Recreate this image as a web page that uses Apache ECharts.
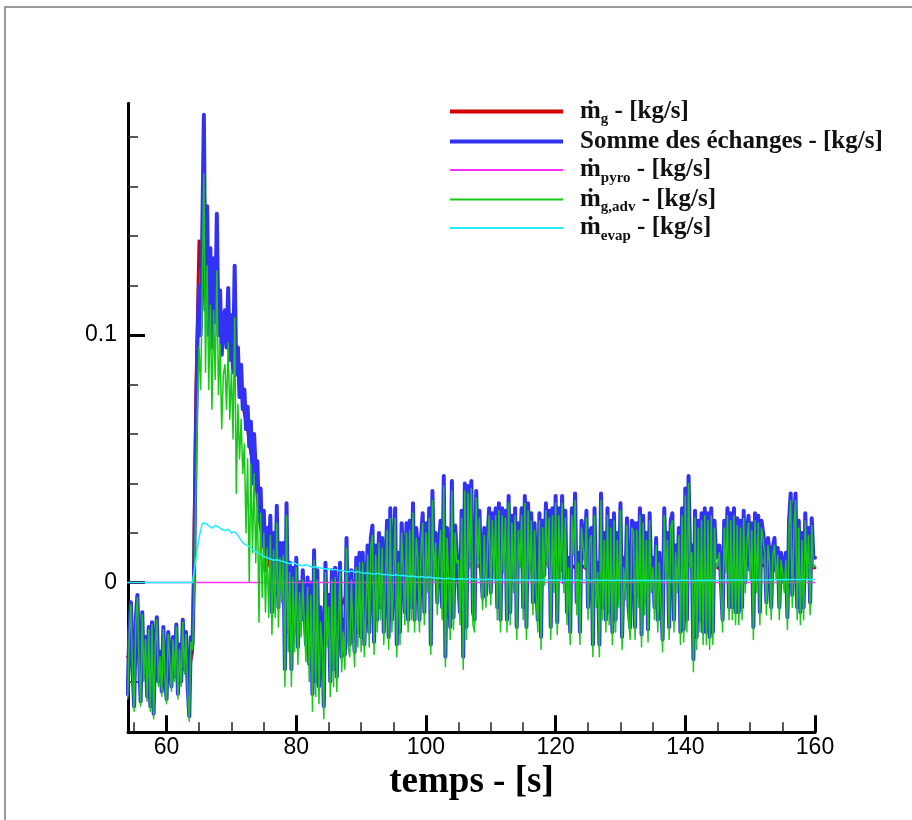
<!DOCTYPE html>
<html><head><meta charset="utf-8">
<script src="https://cdn.jsdelivr.net/npm/echarts@6/dist/echarts.min.js"></script>
<style>html,body{margin:0;padding:0;background:#fff}#c{width:912px;height:820px}</style>
</head><body><div id="c"></div>
<script>
// time grid (s): fine series sampled every 0.25 s, coarse every 0.5 s, starting at 54 s
const T_START = 54;
const STEP_FINE = 0.25;
const STEP_COARSE = 0.5;
const MILLI = 1000; // arrays below are in 1e-3 kg/s

// Somme des échanges (blue), 0.25 s
const sommeEchanges = [
-45,-20,-8,-35, -50,-15,-5,-30, -48,-12,-38,-22, -46,-18,-50,-16, -53,-25,-14,-40,
-28,-44,-18,-36, -47,-20,-30,-42, -22,-38,-17,-45, -25,-40,-15,-35, -20,-42,-54,-22,
-25,5,55,95, 120,100,140,189, 110,152,100,135, 95,131,105,149, 100,118,92,104,
110,95,119,90, 108,85,128,84, 95,75,88,70, 78,62,71,55, 65,40,60,45,
49,25,38,15, 29,5,22,10, 27,-12,20,-5, 31,-10,16,2, 16,-35,32,-20,
8,-35,6,-20, 10,-26,0,-15, 5,-10,-25,2, -33,0,-45,13, -40,5,-42,-10,
-20,-50,8,-20, -5,-40,5,-35, 6,-38,-10,8, -30,-15,-29,18, -20,-25,5,-15,
-28,10,-20,12, -22,12,-25,-5, 15,-20,18,23, -24,15,-15,20, -10,18,-20,5,
25,-22,30,-15, 8,30,-25,12, -20,24,10,-12, 24,-15,25,-10, 32,-15,22,14,
-15,18,28,-12, 24,0,30,-25, 37,5,20,-8, 14,25,-10,43, -30,22,5,-18,
41,-14,23,12, 12,-12,29,-30, 40,-18,39,10, 41,-12,-15,37, 10,29,5,-6,
22,-5,18,30, -4,28,5,30, -10,32,-15,30, 8,29,-15,35, -12,27,0,30,
-18,24,10,30, -10,35,-18,32, 5,28,-8,24, 0,-15,28,-22, 25,3,32,10,
29,-18,30,0, 35,-16,30,5, 35,0,29,-12, 10,-20,30,15, 36,-8,12,-20,
25,18,10,29, -10,20,22,-25, 30,-5,8,-25, 36,-10,20,-15, 30,-12,25,-20,
28,-15,20,-5, 32,-22,10,-2, 26,-10,-18,25, 24,-18,24,-5, 30,-21,27,-8,
20,-19,28,0, 10,-10,18,-15, 12,-5,-23,30, 5,20,-18,25, 28,-15,15,0,
22,-20,30,-19, 38,-15,43,10, 15,-31,29,-22, 25,-15,28,-20, 30,-20,28,-22,
30,-20,25,10, 12,15,0,-15, 25,8,30,-10, 28,-10,30,-12, 26,-12,25,-10,
29,0,20,27, 5,24,-18,28, 0,27,-12,25, 20,15,-8,18, 12,-10,14,18,
5,14,-10,12, 8,0,12,-14, 25,36,-5,25, 36,-10,25,-12, 20,-10,28,5,
22,-8,26,10,
10
];

// m_g,adv (green), 0.25 s
const mgAdv = [
-47,-21,-9,-37, -52,-16,-6,-32, -50,-13,-40,-23, -48,-19,-52,-17, -55,-26,-15,-42,
-30,-46,-19,-38, -49,-21,-32,-44, -23,-40,-18,-47, -27,-42,-16,-37, -21,-44,-56,-24,
-27,-5,35,70, 95,78,118,165, 85,128,78,112, 70,110,82,126, 76,96,62,84,
88,70,97,66, 86,58,107,36, 72,50,66,44, 56,20,50,0, 48,12,44,8,
36,-16,28,-6, 20,-12,14,-14, 19,-21,13,-14, 24,-18,10,-8, 11,-42,27,-28,
4,-42,2,-28, 6,-33,-4,-22, 1,-17,-32,-2, -40,-5,-52,9, -46,1,-49,-16,
-26,-55,4,-26, -10,-46,1,-42, 2,-44,-16,4, -36,-20,-35,14, -26,-30,1,-21,
-34,6,-26,8, -28,8,-30,-10, 11,-26,14,19, -29,11,-20,16, -15,14,-25,2,
21,-27,26,-20, 4,26,-30,8, -25,20,6,-17, 20,-20,21,-15, 28,-20,18,10,
-20,14,24,-17, 20,-4,26,-29, 33,1,16,-13, 10,21,-15,39, -34,18,1,-23,
37,-19,20,8, 9,-17,26,-35, 37,-23,36,6, 38,-17,-20,34, 6,26,1,-11,
19,-10,15,27, -9,25,1,27, -15,29,-20,27, 4,26,-20,32, -17,24,-4,27,
-23,21,6,27, -15,32,-23,29, 1,25,-13,21, -4,-20,25,-27, 22,-1,29,6,
26,-23,27,-4, 32,-21,27,1, 32,-4,26,-17, 6,-25,27,11, 33,-13,8,-25,
22,14,6,26, -15,17,19,-30, 27,-10,4,-30, 33,-15,17,-20, 27,-17,22,-25,
25,-20,17,-10, 29,-27,6,-7, 23,-15,-23,22, 21,-23,21,-10, 27,-26,24,-13,
17,-24,25,-4, 6,-15,15,-20, 8,-10,-28,27, 1,17,-23,22, 25,-20,12,-4,
19,-25,27,-24, 35,-20,40,6, 12,-36,26,-27, 22,-20,25,-25, 27,-25,25,-27,
27,-25,22,6, 8,12,-4,-20, 22,4,27,-15, 25,-15,27,-17, 23,-17,22,-15,
26,-4,16,24, 1,21,-23,25, -4,24,-17,22, 17,12,-13,15, 8,-15,11,15,
1,11,-15,9, 4,-4,9,-19, 22,33,-10,22, 33,-15,22,-17, 17,-15,25,1,
19,-13,23,6,
7
];

// m_g (red), 0.5 s
const mg = [
-30,-28, -31,-27, -30,-29, -32,-30, -33,-27, -31,-29, -33,-30, -30,-32, -29,-28, -31,-35,
-28,75, 138,128, 125,120, 112,120, 108,102, 106,104, 98,100, 86,78, 68,62, 52,48,
34,22, 14,10, 6,4, 6,2, -4,-8, -10,-11, -9,-8, -10,-12, -12,-10, -14,-15,
-16,-13, -12,-14, -10,-10, -9,-6, -8,-9, -7,-5, -6,-3, -1,0, -1,1, 0,2,
3,3, 2,3, 4,4, 5,4, 6,5, 5,6, 6,5, 7,6, 6,7, 5,6,
7,6, 6,7, 7,6, 8,6, 7,6, 7,8, 8,7, 7,8, 8,7, 7,7,
6,7, 8,7, 7,6, 6,7, 7,8, 7,6, 7,8, 7,6, 6,7, 6,5,
7,6, 5,6, 6,5, 6,7, 6,5, 6,5, 5,6, 6,5, 5,6, 6,7,
6,7, 6,5, 5,6, 6,7, 6,5, 6,7, 7,8, 6,5, 6,5, 6,5,
6,7, 6,5, 6,7, 7,6, 6,7, 7,8, 7,6, 6,7, 7,6, 6,5,
5,6, 5,4, 6,7, 7,6, 6,7, 7,6,
6
];

// m_evap (cyan), 0.5 s
const mEvap = [
0,0, 0,0, 0,0, 0,0, 0,0, 0,0, 0,0, 0,0, 0,0, 0,0,
0,9, 18,24, 24,23, 22,23, 22.5,21.5, 21,21.5, 20,20.5, 19,17, 15.5,15, 14,13,
12,11.5, 10.5,10, 9.5,9, 9.2,8.8, 8.5,8, 7.6,8.3, 7.4,7.1, 6.8,7.3, 6.6,6.2, 6.4,6.0,
5.8,5.5, 5.6,5.2, 5.3,4.8, 5.0,4.6, 4.4,4.7, 4.2,4.4, 4.0,3.7, 3.9,3.5, 3.4,3.7, 3.4,3.1,
3.3,2.9, 2.9,3.1, 2.7,2.9, 2.6,2.4, 2.6,2.2, 2.2,2.4, 2.0,2.2, 1.9,1.7, 1.8,1.6, 1.5,1.7,
1.5,1.3, 1.4,1.5, 1.3,1.4, 1.5,1.2, 1.3,1.2, 1.1,1.3, 1.2,1.1, 1.0,1.2, 1.1,1.0, 1.1,0.9,
1.0,1.1, 1.0,0.9, 1.0,1.1, 0.9,1.0, 1.0,0.9, 0.9,1.0, 0.9,1.0, 0.9,0.8, 1.0,0.9, 0.9,0.9,
0.8,1.0, 0.9,0.8, 0.9,0.9, 0.8,0.9, 0.9,0.8, 0.8,0.9, 0.9,0.8, 0.8,0.8, 0.9,0.8, 0.8,0.9,
0.8,0.8, 0.9,0.8, 0.8,0.8, 0.8,0.9, 0.8,0.8, 0.8,0.9, 0.9,0.8, 0.8,0.8, 0.8,0.9, 0.8,0.8,
0.9,0.8, 0.8,0.9, 0.9,1.0, 0.9,1.0, 1.0,0.9, 1.0,1.0, 1.1,1.0, 1.0,1.1, 1.1,1.0, 1.0,1.1,
1.1,1.1, 1.1,1.2, 1.1,1.2, 1.2,1.1, 1.2,1.2, 1.1,1.2,
1.2
];

// m_pyro (magenta)
const pyroTimes = [54, 64, 65, 160];
const mPyro = [0, 0, 0, 0];

// axis ticks
const xMajorTicks = [60, 80, 100, 120, 140, 160];
const xMinorTicks = [55, 65, 70, 75, 85, 90, 95, 105, 110, 115, 125, 130, 135, 145, 150, 155];
const yMajorTicks = [0, 0.1];
const yMinorTicks = [-0.04, -0.02, 0.02, 0.04, 0.06, 0.08, 0.12, 0.14, 0.16, 0.18];

const X_MIN = 54.05, X_MAX = 160, Y_MIN = -0.0605, Y_MAX = 0.1936;

function toPairs(vals, start, step) {
  return vals.map((v, i) => [start + i * step, v / MILLI]);
}

const series = [
  { name: 'mg', color: '#d40000', width: 3, data: toPairs(mg, T_START, STEP_COARSE) },
  { name: 'somme', color: '#3232f5', width: 4, data: toPairs(sommeEchanges, T_START, STEP_FINE) },
  { name: 'mpyro', color: '#ff30ff', width: 1.5, data: pyroTimes.map((t, i) => [t, mPyro[i] / MILLI]) },
  { name: 'mgadv', color: '#18c818', width: 1.5, data: toPairs(mgAdv, T_START, STEP_FINE) },
  { name: 'mevap', color: '#22eeff', width: 1.5, data: toPairs(mEvap, T_START, STEP_COARSE) }
];

const legendText = {
  mg: '{b|ṁ}{s|g}{b| - [kg/s]}',
  somme: '{b|Somme des échanges - [kg/s]}',
  mpyro: '{b|ṁ}{s|pyro}{b| - [kg/s]}',
  mgadv: '{b|ṁ}{s|g,adv}{b| - [kg/s]}',
  mevap: '{b|ṁ}{s|evap}{b| - [kg/s]}'
};
const legendRows = [110, 140, 169.5, 199, 228.5];
const legendTopShift = [14, 11, 15, 15, 16];
const legendThick = [4, 4, 2, 2, 2];

const richStyles = {
  b: { fontFamily: 'Liberation Serif', fontWeight: 'bold', fontSize: 25, color: '#111', lineHeight: 32, verticalAlign: 'middle' },
  s: { fontFamily: 'Liberation Serif', fontWeight: 'bold', fontSize: 15, color: '#111', lineHeight: 15, padding: [16, 0, 0, 0], verticalAlign: 'middle' }
};

const chart = echarts.init(document.getElementById('c'), null, { renderer: 'canvas' });

const legends = series.map((s, i) => ({
  data: [s.name],
  left: 450,
  top: legendRows[i] - legendTopShift[i],
  padding: 0,
  icon: 'rect',
  itemWidth: 113,
  itemHeight: legendThick[i],
  selectedMode: false,
  formatter: (n) => legendText[n],
  textStyle: { padding: [0, 0, 0, 12], rich: richStyles }
}));

const baseAxisLabelFont = { fontFamily: 'Liberation Sans', fontSize: 23, color: '#000' };

chart.setOption({
  animation: false,
  backgroundColor: '#fff',
  grid: { left: 128, right: 97, top: 103.3, bottom: 87.7, containLabel: false },
  graphic: [{
    type: 'rect', silent: true, z: 100,
    shape: { x: 5, y: 7, width: 1000, height: 1000 },
    style: { fill: 'none', stroke: '#7a7a7a', lineWidth: 1.5 }
  }],
  legend: legends,
  xAxis: [
    {
      type: 'value', min: X_MIN, max: X_MAX, position: 'bottom',
      axisLine: { show: true, onZero: false, lineStyle: { color: '#000', width: 3 } },
      axisTick: { show: true, inside: true, length: 17, lineStyle: { color: '#000', width: 3 }, customValues: xMajorTicks },
      axisLabel: Object.assign({ customValues: xMajorTicks, margin: 4 }, baseAxisLabelFont),
      splitLine: { show: false },
      name: 'temps - [s]', nameLocation: 'middle', nameGap: 27,
      nameTextStyle: { fontFamily: 'Liberation Serif', fontWeight: 'bold', fontSize: 37, color: '#000' }
    },
    {
      type: 'value', min: X_MIN, max: X_MAX, position: 'bottom',
      axisLine: { show: false, onZero: false },
      axisTick: { show: true, inside: true, length: 10, lineStyle: { color: '#222', width: 1.5 }, customValues: xMinorTicks },
      axisLabel: { show: false },
      splitLine: { show: false }
    }
  ],
  yAxis: [
    {
      type: 'value', min: Y_MIN, max: Y_MAX, position: 'left',
      axisLine: { show: true, onZero: false, lineStyle: { color: '#000', width: 3 } },
      axisTick: { show: true, inside: true, length: 17, lineStyle: { color: '#000', width: 3 }, customValues: yMajorTicks },
      axisLabel: Object.assign({ customValues: yMajorTicks, margin: 11 }, baseAxisLabelFont),
      splitLine: { show: false }
    },
    {
      type: 'value', min: Y_MIN, max: Y_MAX, position: 'left',
      axisLine: { show: false, onZero: false },
      axisTick: { show: true, inside: true, length: 10, lineStyle: { color: '#222', width: 1.5 }, customValues: yMinorTicks },
      axisLabel: { show: false },
      splitLine: { show: false }
    }
  ],
  series: series.map((s) => ({
    type: 'line',
    name: s.name,
    xAxisIndex: 0,
    yAxisIndex: 0,
    data: s.data,
    color: s.color,
    itemStyle: { color: s.color },
    showSymbol: false,
    symbol: 'none',
    lineStyle: { color: s.color, width: s.width, join: 'round', cap: 'round' },
    emphasis: { disabled: true },
    silent: true
  }))
});
</script>
</body></html>
